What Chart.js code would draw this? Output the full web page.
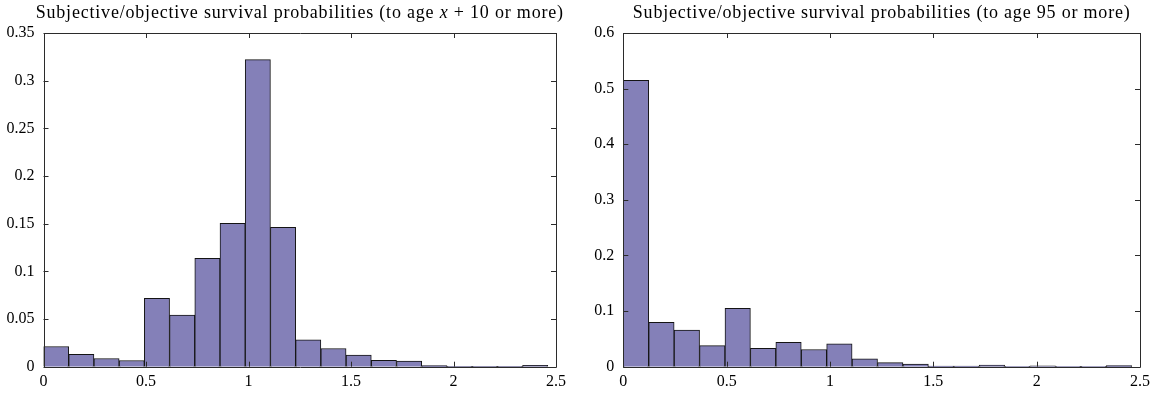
<!DOCTYPE html>
<html>
<head>
<meta charset="utf-8">
<script src="https://cdn.jsdelivr.net/npm/chart.js@4.4.1/dist/chart.umd.min.js"></script>
<style>
  html, body { margin: 0; padding: 0; background: #fff; }
  #wrap { position: relative; width: 1157px; height: 394px; overflow: hidden; }
  canvas { position: absolute; top: 0; }
  #left { left: 0; }
  #right { left: 578px; }
</style>
</head>
<body>
<div id="wrap">
  <canvas id="left" width="578" height="394"></canvas>
  <canvas id="right" width="579" height="394"></canvas>
</div>
<script>
// Histogram bin centres (bin width 0.123, first bin starting at 0)
const binCenters = [0.0615, 0.1845, 0.3075, 0.4305, 0.5535, 0.6765, 0.7995, 0.9225, 1.0455, 1.1685,
                    1.2915, 1.4145, 1.5375, 1.6605, 1.7835, 1.9065, 2.0295, 2.1525, 2.2755, 2.3985];

// Relative frequencies of subjective/objective survival probability ratios
const ratioAgePlus10 = [0.0212, 0.0131, 0.0086, 0.0065, 0.0716, 0.0541, 0.1137, 0.1504, 0.3220, 0.1462,
                        0.0281, 0.0191, 0.0121, 0.0068, 0.0058, 0.0013, 0.0005, 0.0005, 0.0005, 0.0015];
const ratioAge95     = [0.515, 0.080, 0.066, 0.038, 0.105, 0.033, 0.044, 0.031, 0.041, 0.014,
                        0.0072, 0.0049, 0.001, 0.001, 0.003, 0.0005, 0.0015, 0.0005, 0.0005, 0.002];

// Axis tick labels
const xTicks = [0, 0.5, 1, 1.5, 2, 2.5];
const yTicksLeft = [0, 0.05, 0.1, 0.15, 0.2, 0.25, 0.3, 0.35];
const yTicksRight = [0, 0.1, 0.2, 0.3, 0.4, 0.5, 0.6];

// Title pieces (the variable x is set in italics)
const titleLeft = [
  { text: 'Subjective/objective survival probabilities (to age ' },
  { text: 'x', italic: true },
  { text: ' + 10 or more)' }
];
const titleRight = [
  { text: 'Subjective/objective survival probabilities (to age 95 or more)' }
];

const FONT_FAMILY = '"Liberation Serif", "DejaVu Serif", serif';
const FONT_SIZE = 16;
const TITLE_SIZE = 18;
const TITLE_SPACING = '0.8px';
const BAR_FILL = '#8480b8';
const BAR_EDGE = '#141414';
const AXIS_COLOR = '#2b2b2b';

const fmt = v => String(Number(Number(v).toFixed(3)));

// Box around the plot area with inward tick marks on all four sides
const boxPlugin = {
  id: 'boxAxes',
  afterDatasetsDraw(chart) {
    const { ctx, chartArea: a, scales: { x, y } } = chart;
    const len = 5;
    ctx.save();
    ctx.strokeStyle = AXIS_COLOR;
    ctx.lineWidth = 1;
    ctx.beginPath();
    ctx.rect(Math.round(a.left) + 0.5, Math.round(a.top) + 0.5,
             Math.round(a.right) - Math.round(a.left), Math.round(a.bottom) - Math.round(a.top));
    x.ticks.forEach(t => {
      const px = Math.round(x.getPixelForValue(t.value)) + 0.5;
      ctx.moveTo(px, a.bottom); ctx.lineTo(px, a.bottom - len);
      ctx.moveTo(px, a.top); ctx.lineTo(px, a.top + len);
    });
    y.ticks.forEach(t => {
      const py = Math.round(y.getPixelForValue(t.value)) + 0.5;
      ctx.moveTo(a.left, py); ctx.lineTo(a.left + len, py);
      ctx.moveTo(a.right, py); ctx.lineTo(a.right - len, py);
    });
    ctx.stroke();
    ctx.restore();
  }
};

// Centred title drawn from styled text pieces
const titlePlugin = {
  id: 'richTitle',
  afterDraw(chart, args, opts) {
    const parts = opts.parts || [];
    const { ctx, chartArea: a } = chart;
    ctx.save();
    ctx.fillStyle = '#000';
    ctx.textBaseline = 'alphabetic';
    if ('letterSpacing' in ctx) ctx.letterSpacing = TITLE_SPACING;
    const fontFor = p => (p.italic ? 'italic ' : '') + opts.size + 'px ' + FONT_FAMILY;
    let total = 0;
    parts.forEach(p => { ctx.font = fontFor(p); total += ctx.measureText(p.text).width; });
    let xPos = (a.left + a.right) / 2 - total / 2;
    parts.forEach(p => {
      ctx.font = fontFor(p);
      ctx.fillText(p.text, xPos, opts.baseline);
      xPos += ctx.measureText(p.text).width;
    });
    ctx.restore();
  }
};

function makeHistogram(canvasId, values, yMax, yTickValues, yWidth, padRight, titleParts) {
  return new Chart(document.getElementById(canvasId), {
    type: 'bar',
    data: {
      datasets: [{
        data: binCenters.map((c, i) => ({ x: c, y: values[i] })),
        backgroundColor: BAR_FILL,
        borderColor: BAR_EDGE,
        borderWidth: 1,
        barPercentage: 1,
        categoryPercentage: 1
      }]
    },
    options: {
      responsive: false,
      devicePixelRatio: 1,
      animation: false,
      events: [],
      layout: { padding: { top: 33, right: padRight, bottom: 0, left: 0 } },
      plugins: {
        legend: { display: false },
        tooltip: { enabled: false },
        title: { display: false },
        richTitle: { parts: titleParts, size: TITLE_SIZE, baseline: 17.5 }
      },
      scales: {
        x: {
          type: 'linear',
          min: 0, max: 2.5,
          offset: false,
          afterBuildTicks: s => { s.ticks = xTicks.map(v => ({ value: v })); },
          afterFit: s => { s.height = 27.3; },
          grid: { display: false, drawTicks: false },
          border: { display: false },
          ticks: {
            padding: 5,
            color: '#000',
            maxRotation: 0,
            font: { family: FONT_FAMILY, size: FONT_SIZE },
            callback: v => fmt(v)
          }
        },
        y: {
          min: 0, max: yMax,
          afterBuildTicks: s => { s.ticks = yTickValues.map(v => ({ value: v })); },
          afterFit: s => { s.width = yWidth; },
          grid: { display: false, drawTicks: false },
          border: { display: false },
          ticks: {
            padding: 9,
            color: '#000',
            font: { family: FONT_FAMILY, size: FONT_SIZE },
            callback: v => fmt(v)
          }
        }
      }
    },
    plugins: [boxPlugin, titlePlugin]
  });
}

makeHistogram('left', ratioAgePlus10, 0.35, yTicksLeft, 43.5, 22, titleLeft);
makeHistogram('right', ratioAge95, 0.6, yTicksRight, 45.3, 17, titleRight);
</script>
</body>
</html>
